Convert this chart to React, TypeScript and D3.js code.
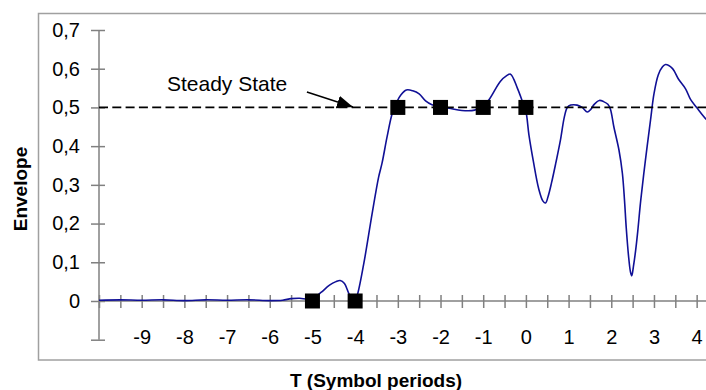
import { useEffect, useRef } from 'react';
import * as d3 from 'd3';

// envelope samples (T in symbol periods)
const timeValues = [
  -10, -9.5, -9, -8.5, -8, -7.5, -7, -6.5, -6, -5.7, -5.5, -5.3, -5.1, -4.95, -4.8, -4.6, -4.45, -4.35,
  -4.25, -4.15, -4.07, -4.0, -3.95, -3.8, -3.6, -3.45, -3.37, -3.25, -3.13, -3.02, -2.93, -2.8, -2.65,
  -2.5, -2.35, -2.2, -2.0, -1.8, -1.5, -1.2, -1.0, -0.87, -0.6, -0.45, -0.36, -0.2, -0.08, 0.0, 0.07,
  0.17, 0.3, 0.4, 0.46, 0.52, 0.6, 0.7, 0.81, 0.9, 0.97, 1.05, 1.2, 1.32, 1.44, 1.52, 1.6, 1.72, 1.82,
  1.92, 1.98, 2.06, 2.18, 2.26, 2.31, 2.35, 2.41, 2.45, 2.48, 2.52, 2.57, 2.62, 2.69, 2.8, 2.92, 3.0,
  3.1, 3.2, 3.27, 3.43, 3.58, 3.74, 3.86, 4.0, 4.17, 4.3
];
const envelopeValues = [
  0.002, 0.003, 0.002, 0.003, 0.001, 0.003, 0.002, 0.003, 0.001, 0.002, 0.006, 0.007, 0.005, 0.01, 0.022,
  0.041, 0.05, 0.053, 0.045, 0.02, 0.002, 0.003, 0.015, 0.095, 0.227, 0.32, 0.356, 0.425, 0.485, 0.515,
  0.532, 0.545, 0.543, 0.535, 0.517, 0.507, 0.502, 0.498, 0.492, 0.493, 0.505, 0.519, 0.567, 0.582, 0.586,
  0.55, 0.515, 0.49, 0.43, 0.364, 0.29, 0.258, 0.253, 0.27, 0.305, 0.356, 0.416, 0.475, 0.5, 0.506, 0.506,
  0.5, 0.488, 0.495, 0.508, 0.518, 0.515, 0.508, 0.495, 0.45, 0.39, 0.33, 0.26, 0.19, 0.11, 0.075, 0.065,
  0.09, 0.13, 0.18, 0.26, 0.364, 0.468, 0.535, 0.584, 0.605, 0.611, 0.601, 0.572, 0.548, 0.52, 0.5,
  0.476, 0.46
];

// sampling instants marked with squares
const sampleTimes = [-5, -4, -3, -2, -1, 0];
const sampleValues = [0, 0, 0.5, 0.5, 0.5, 0.5];

const steadyState = 0.5;
const xTickValues = d3.range(-10, 4.51, 0.5);
const yTickValues = [-0.1, 0, 0.1, 0.2, 0.3, 0.4, 0.5, 0.6, 0.7];

const FONT = "'Liberation Sans', Arial, sans-serif";

export default function App() {
  const svgRef = useRef<SVGSVGElement>(null);
  const width = 706;
  const height = 390;

  useEffect(() => {
    if (!svgRef.current) return;
    const svg = d3.select(svgRef.current);
    svg.selectAll('*').remove();

    const x = d3.scaleLinear().domain([-10, 4.5]).range([99, 718]);
    const y = d3.scaleLinear().domain([-0.1, 0.7]).range([339.7, 30]);

    svg.append('rect').attr('x', 38.5).attr('y', 13.5).attr('width', 720).attr('height', 346.5)
      .attr('fill', 'none').attr('stroke', '#a0a0a0').attr('stroke-width', 1.5);

    const defs = svg.append('defs');
    defs.append('marker').attr('id', 'arrow').attr('markerUnits', 'userSpaceOnUse')
      .attr('markerWidth', 18).attr('markerHeight', 14).attr('refX', 16).attr('refY', 6.5)
      .attr('orient', 'auto')
      .append('path').attr('d', 'M0,0 L16,6.5 L0,13 Z').attr('fill', '#000');

    // y axis
    const yAxis = svg.append('g').attr('transform', 'translate(' + x(-10) + ',0)')
      .call(d3.axisLeft(y).tickValues(yTickValues).tickSize(0)
        .tickFormat(d => (+d < 0 ? '' : +d === 0 ? '0' : (+d).toFixed(1).replace('.', ','))));
    yAxis.selectAll('.tick line').attr('x1', -8).attr('x2', 6).attr('stroke', '#808080').attr('stroke-width', 1.5);
    yAxis.selectAll('.tick text').attr('x', -19).attr('font-size', 20).attr('font-family', FONT).attr('fill', '#000');

    // x axis
    const xAxis = svg.append('g').attr('transform', 'translate(0,' + y(0) + ')')
      .call(d3.axisBottom(x).tickValues(xTickValues).tickSize(0)
        .tickFormat(d => (Number.isInteger(+d) && +d > -10 ? String(d) : '')));
    xAxis.selectAll('.tick line').attr('y1', -6).attr('y2', 7).attr('stroke', '#808080').attr('stroke-width', 1.5);
    xAxis.selectAll('.tick text').attr('y', 29).attr('font-size', 20).attr('font-family', FONT).attr('fill', '#000');
    svg.selectAll('.domain').remove();
    yAxis.append('line').attr('x1', 0).attr('x2', 0).attr('y1', y(-0.1)).attr('y2', y(0.7))
      .attr('stroke', '#808080').attr('stroke-width', 1.5);
    xAxis.append('line').attr('x1', x(-10)).attr('x2', x(4.5)).attr('y1', 0).attr('y2', 0)
      .attr('stroke', '#808080').attr('stroke-width', 1.5);

    // envelope curve
    const points: [number, number][] = timeValues.map((t, i) => [t, envelopeValues[i]]);
    const line = d3.line<[number, number]>().x(d => x(d[0])).y(d => y(d[1])).curve(d3.curveCatmullRom);
    svg.append('path').datum(points).attr('d', line).attr('fill', 'none')
      .attr('stroke', '#101096').attr('stroke-width', 1.6);

    // steady state reference
    svg.append('line').attr('x1', x(-10)).attr('x2', x(4.5)).attr('y1', y(steadyState)).attr('y2', y(steadyState))
      .attr('stroke', '#000').attr('stroke-width', 1.7).attr('stroke-dasharray', '9,4.3');

    svg.append('text').attr('x', x(-7)).attr('y', y(0.543)).attr('text-anchor', 'middle')
      .attr('font-size', 21).attr('font-family', FONT).text('Steady State');
    svg.append('line').attr('x1', x(-5.13)).attr('y1', y(0.54)).attr('x2', x(-4.05)).attr('y2', y(0.501))
      .attr('stroke', '#000').attr('stroke-width', 1.5).attr('marker-end', 'url(#arrow)');

    // sample markers
    svg.selectAll('rect.sample').data(sampleTimes).enter().append('rect').attr('class', 'sample')
      .attr('x', d => x(d) - 7.5).attr('y', (d, i) => y(sampleValues[i]) - 7.5)
      .attr('width', 15).attr('height', 15).attr('fill', '#000');

    // axis titles
    svg.append('text').attr('transform', 'translate(27,' + 189 + ') rotate(-90)')
      .attr('text-anchor', 'middle').attr('font-size', 19).attr('font-weight', 'bold')
      .attr('font-family', FONT).text('Envelope');
    svg.append('text').attr('x', 376).attr('y', 387).attr('text-anchor', 'middle')
      .attr('font-size', 19).attr('font-weight', 'bold').attr('font-family', FONT).text('T (Symbol periods)');
  }, []);

  return (
    <svg ref={svgRef} width={width} height={height}
      style={{ position: 'absolute', left: 0, top: 0, background: '#fff' }} />
  );
}
